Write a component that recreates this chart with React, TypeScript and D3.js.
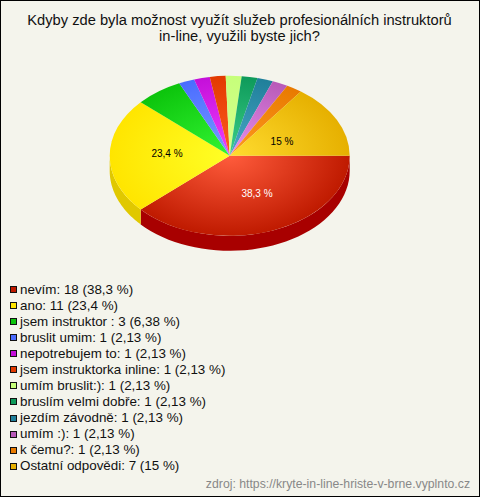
import React from "react";
import * as d3 from "d3";

const categories = ["nevím","ano","jsem instruktor ","bruslit umim","nepotrebujem to","jsem instruktorka inline","umím bruslit:)","bruslím velmi dobře","jezdím závodně","umím :)","k čemu?","Ostatní odpovědi"];
const counts = [18,11,3,1,1,1,1,1,1,1,1,7];
const percents = ["38,3","23,4","6,38","2,13","2,13","2,13","2,13","2,13","2,13","2,13","2,13","15"];
const edgeColors = ["#bf1a00","#ffe500","#0cc40c","#4a6cff","#c40fd9","#e23a00","#c6ff7a","#0e9a5a","#1f7f9a","#b85ab8","#e87a00","#e6b000"];
const centerColors = ["#ff5c3c","#ffff26","#33f533","#7a9cff","#f040ff","#ff5c20","#d8ff90","#3ccf8a","#4aa8c8","#e890f0","#ff9a20","#ffdc30"];
const wallColors: Record<number,string> = {0:"#a80000",1:"#e0c800"};
const sliceLabels = [{i:0,x:257,y:193,c:"#fff"},{i:1,x:167,y:153,c:"#000"},{i:11,x:282,y:141,c:"#000"}];
const titleLines = ["Kdyby zde byla možnost využít služeb profesionálních instruktorů","in-line, využili byste jich?"];
const source = "zdroj: https://kryte-in-line-hriste-v-brne.vyplnto.cz";

const W=480,H=497,cx=229.7,cy=155.8,rx=120,ry=80,depth=15;
const font="'Liberation Sans', Arial, sans-serif";

export default function App(){
  const pie=d3.pie<number>().sort(null).startAngle(Math.PI/2).endAngle(Math.PI*2.5);
  const arcs=pie(counts);
  const arc=d3.arc<d3.PieArcDatum<number>>().innerRadius(0).outerRadius(rx);
  const legendY=d3.scalePoint<number>().domain(d3.range(categories.length)).range([289,465.7]);
  const wall=(a0:number,a1:number)=>{
    const s=Math.max(a0,Math.PI/2), e=Math.min(a1,Math.PI*1.5);
    if(e<=s) return null;
    const angles=d3.range(0,41).map(k=>s+(e-s)*k/40);
    const area=d3.area<number>()
      .x(a=>cx+rx*Math.sin(a))
      .y0(a=>cy-ry*Math.cos(a))
      .y1(a=>cy-ry*Math.cos(a)+depth);
    return area(angles);
  };
  return (
    <svg width={W} height={H} style={{position:"absolute",left:0,top:0,display:"block"}} fontFamily={font}>
      <defs>
        {arcs.map((_,i)=>(
          <radialGradient key={i} id={"g"+i} gradientUnits="userSpaceOnUse" cx={0} cy={0} r={rx}>
            <stop offset="0" stopColor={centerColors[i]}/>
            <stop offset="1" stopColor={edgeColors[i]}/>
          </radialGradient>
        ))}
      </defs>
      <rect x={0.5} y={0.5} width={W-1} height={H-1} fill="#f4f4ec" stroke="#000"/>
      <text textAnchor="middle" fontSize={14.7} fill="#111">
        {titleLines.map((t,i)=><tspan key={i} x={239.5} y={25+i*16}>{t}</tspan>)}
      </text>
      {arcs.map((d,i)=>{
        const w=wall(d.startAngle,d.endAngle);
        return w ? <path key={i} d={w} fill={wallColors[i]}/> : null;
      })}
      <g transform={`translate(${cx},${cy}) scale(1,${ry/rx})`}>
        {arcs.map((d,i)=><path key={i} d={arc(d)!} fill={`url(#g${i})`}/>)}
      </g>
      <g fontSize={10} textAnchor="middle">
        {sliceLabels.map(l=><text key={l.i} x={l.x} y={l.y+3.5} fill={l.c}>{percents[l.i]+" %"}</text>)}
      </g>
      <g fontSize={13.4}>
        {categories.map((c,i)=>{
          const y=legendY(i)!;
          return <g key={i}>
            <rect x={10.5} y={Math.round(y-3)+0.5-0.5+0.5} width={6} height={6} fill={edgeColors[i]} stroke="#111"/>
            <text x={20} y={y+4.5} fill="#111">{`${c}: ${counts[i]} (${percents[i]} %)`}</text>
          </g>;
        })}
      </g>
      <text x={470} y={488} textAnchor="end" fontSize={12.25} fill="#888">{source}</text>
    </svg>
  );
}
